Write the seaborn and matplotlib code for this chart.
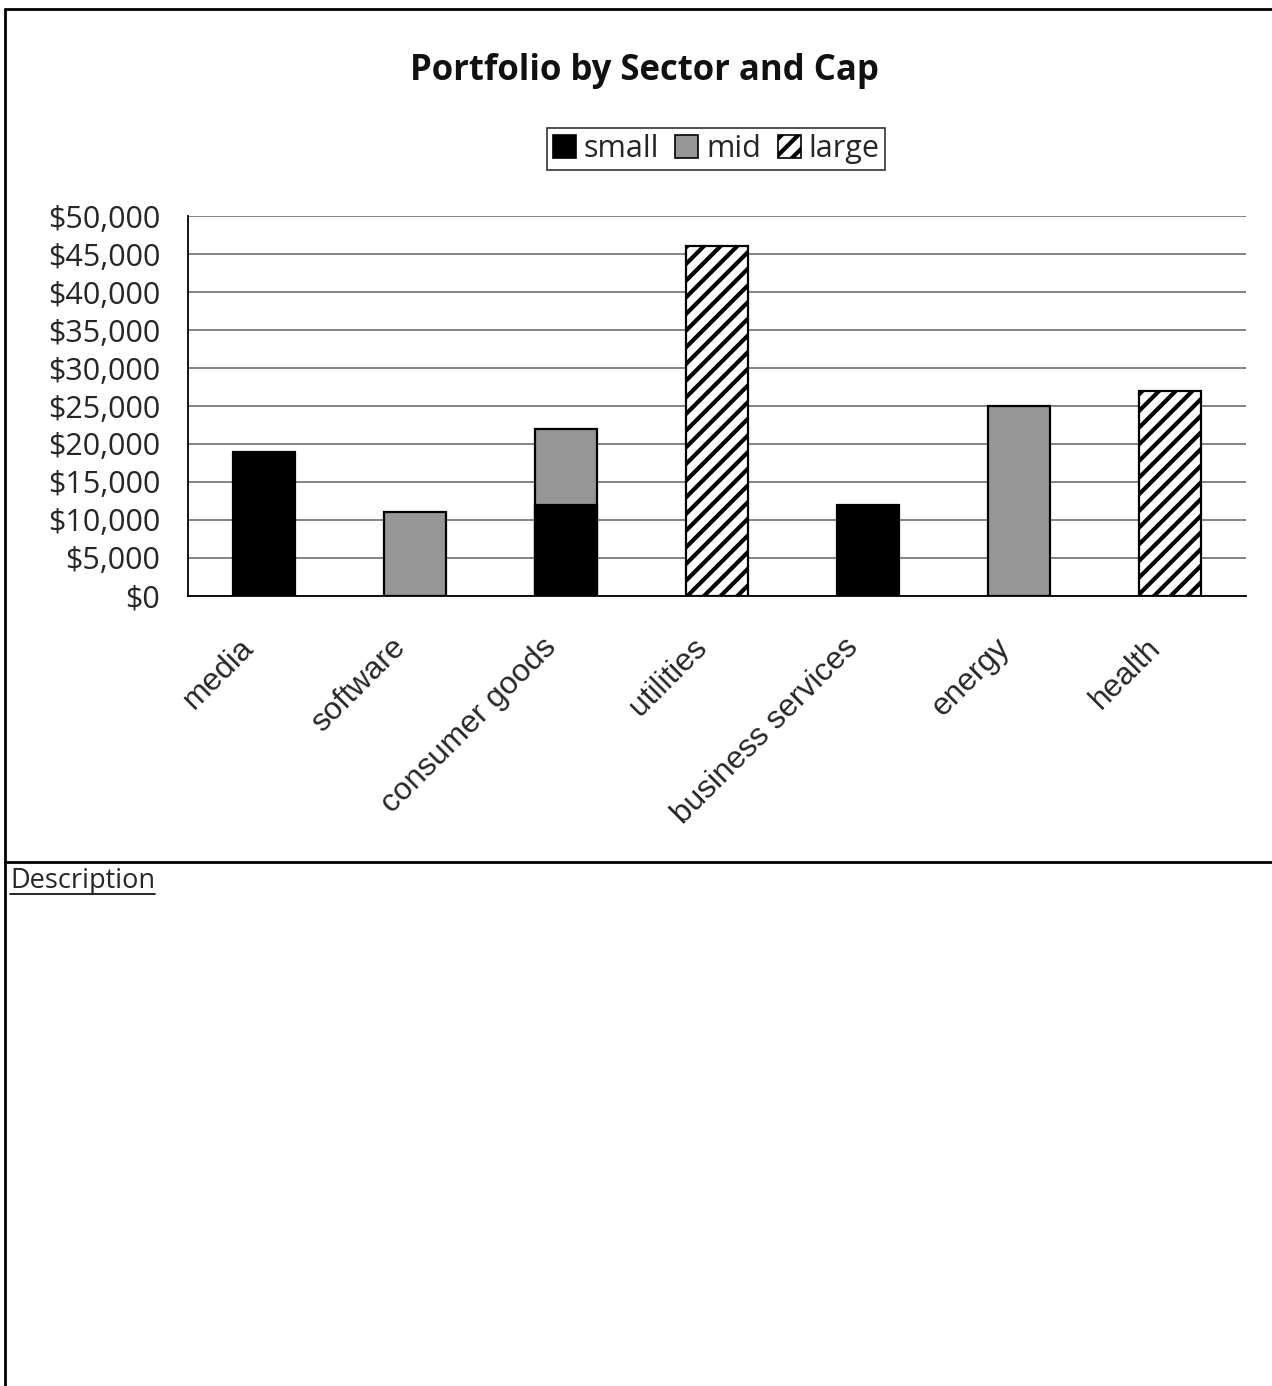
import numpy as np
import pandas as pd
import matplotlib
matplotlib.use("Agg")
import matplotlib.pyplot as plt
from matplotlib.patches import Patch
from matplotlib.lines import Line2D
from matplotlib.ticker import FixedLocator
from matplotlib.transforms import ScaledTranslation
import seaborn as sns

# Holdings by sector, split by market-cap bucket (USD)
sectors = ["media", "software", "consumer goods", "utilities",
           "business services", "energy", "health"]
small = [19000, 0, 12000, 0, 12000, 0, 0]
mid = [0, 11000, 10000, 0, 0, 25000, 0]
large = [0, 0, 0, 46000, 0, 0, 27000]
caps = ["small", "mid", "large"]
y_ticks = [0, 5000, 10000, 15000, 20000, 25000, 30000, 35000, 40000, 45000, 50000]

df = pd.DataFrame({"sector": sectors, "small": small, "mid": mid, "large": large})
df["top_small"] = df["small"]
df["top_mid"] = df["small"] + df["mid"]
df["top_large"] = df["small"] + df["mid"] + df["large"]

sns.set_style("white")
plt.rcParams["font.family"] = ["Open Sans", "DejaVu Sans"]
plt.rcParams["hatch.linewidth"] = 3.0
plt.rcParams["hatch.color"] = "black"

fig = plt.figure(figsize=(12.72, 13.86), dpi=100)
ax = fig.add_axes([188 / 1272, 1 - 596 / 1386, (1246 - 188) / 1272, (596 - 216) / 1386])

styles = {
    "large": dict(color="white", hatch="//"),
    "mid": dict(color="#969696", hatch=None),
    "small": dict(color="black", hatch=None),
}

# stacked bars: draw cumulative tops, largest layer first
for cap in ["large", "mid", "small"]:
    sub = df[df[cap] > 0]
    n_before = len(ax.patches)
    sns.barplot(data=sub, x="sector", y=f"top_{cap}", order=sectors,
                color=styles[cap]["color"], width=0.41, saturation=1,
                edgecolor="black", linewidth=1.6, ax=ax, zorder=3)
    if styles[cap]["hatch"]:
        for p in ax.patches[n_before:]:
            p.set_hatch(styles[cap]["hatch"])
            p.set_facecolor("white")

ax.set_xlim(-0.5, len(sectors) - 0.5)
ax.set_ylim(0, 50000)
ax.set_xlabel("")
ax.set_ylabel("")

ax.yaxis.set_major_locator(FixedLocator(y_ticks))
ax.set_yticklabels([f"${v:,.0f}" for v in y_ticks])
ax.yaxis.grid(True, color="#7a7a7a", linewidth=1.3, zorder=0)
ax.set_axisbelow(True)

ax.set_xticks(range(len(sectors)))
ax.set_xticklabels(sectors, rotation=45, ha="right", va="center", rotation_mode="anchor",
                   family=["Liberation Sans", "DejaVu Sans"], fontsize=22.8)
ax.set_xticks(np.arange(-0.5, len(sectors), 1), minor=True)
ax.tick_params(axis="x", which="major", length=0, pad=28)
ax.tick_params(axis="x", which="minor", length=8, width=1.3, color="black", direction="out")
ax.tick_params(axis="y", which="major", length=12, width=1.3, color="black",
               direction="out", labelsize=22, pad=8)

for side in ["top", "right"]:
    ax.spines[side].set_visible(False)
for side in ["left", "bottom"]:
    ax.spines[side].set_color("black")
    ax.spines[side].set_linewidth(1.3)

fig.text(644 / 1272, 1 - 71 / 1386, "Portfolio by Sector and Cap",
         ha="center", va="center", fontsize=25, fontweight="bold", color="#111111")

handles = [
    Patch(facecolor="black", edgecolor="black", linewidth=1.2),
    Patch(facecolor="#969696", edgecolor="black", linewidth=1.2),
    Patch(facecolor="white", edgecolor="black", linewidth=1.2, hatch="//"),
]
leg = fig.legend(handles, caps, loc="center", bbox_to_anchor=(716 / 1272, 1 - 149 / 1386),
                 ncol=3, fontsize=22, frameon=True, fancybox=False,
                 handlelength=0.75, handleheight=0.75, handletextpad=0.25,
                 columnspacing=0.55, borderpad=0.2, borderaxespad=0)
leg.get_frame().set_edgecolor("black")
leg.get_frame().set_linewidth(1.2)

# page frame and description section
fig.add_artist(Line2D([5 / 1272, 1], [1 - 9 / 1386, 1 - 9 / 1386], color="black", lw=2))
fig.add_artist(Line2D([5 / 1272, 5 / 1272], [0, 1 - 9 / 1386], color="black", lw=2))
fig.add_artist(Line2D([5 / 1272, 1], [1 - 862 / 1386, 1 - 862 / 1386], color="black", lw=2))

desc = fig.text(10 / 1272, 1 - 881 / 1386, "Description", ha="left", va="center", fontsize=19.5)
fig.canvas.draw()
bb = desc.get_window_extent().transformed(fig.transFigure.inverted())
fig.add_artist(Line2D([bb.x0, bb.x1], [bb.y0 + 0.001, bb.y0 + 0.001], color="black", lw=1.2))

# nudge the slanted category labels down-left along their baseline
shift = ScaledTranslation(-14 / 100, -8 / 100, fig.dpi_scale_trans)
for lab in ax.get_xticklabels():
    lab.set_transform(lab.get_transform() + shift)

fig.savefig("out.png", dpi=100)
